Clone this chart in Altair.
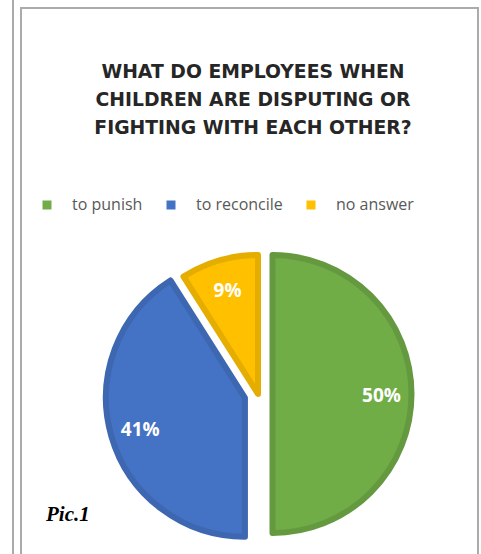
import altair as alt
import pandas as pd

# ---- data ----
categories = ["to punish", "to reconcile", "no answer"]
values = [50, 41, 9]
title_lines = ["WHAT DO EMPLOYEES WHEN", "CHILDREN ARE DISPUTING OR", "FIGHTING WITH EACH OTHER?"]
caption = "Pic.1"

# ---- style ----
fill_colors = ["#70AD47", "#4472C4", "#FFC000"]
stroke_colors = ["#65993F", "#3E67B1", "#E5AD00"]
explode = [14.5, 13.6, 0]          # per-slice explosion (px)
CX, CY = 258, 252                  # pie centre inside plot group
TOP = 142                          # top padding (title area)

df = pd.DataFrame({"category": categories, "value": values})

cat_js = "[" + ",".join("'%s'" % c for c in categories) + "]"
exp_js = "[" + ",".join(str(e) for e in explode) + "]"

base = (
    alt.Chart(df)
    .transform_calculate(idx=f"indexof({cat_js}, datum.category)")
    .transform_joinaggregate(total="sum(value)")
    .transform_window(cum="sum(value)", sort=[alt.SortField("idx")], frame=[None, 0])
    .transform_calculate(
        e="datum.cum / datum.total",
        s="(datum.cum - datum.value) / datum.total",
        m="(datum.cum - datum.value / 2) / datum.total",
        label="datum.value + '%'",
    )
    .transform_calculate(
        ex=f"{exp_js}[datum.idx]",
        mr="datum.m * 2 * PI",
    )
    .transform_calculate(
        px=f"{CX} + datum.ex * sin(datum.mr)",
        py=f"{CY} - datum.ex * cos(datum.mr)",
    )
)

theta_scale = alt.Scale(domain=[0, 1])

arcs = base.mark_arc(radius=139, strokeWidth=6, strokeJoin="round").encode(
    theta=alt.Theta("s:Q", scale=theta_scale, stack=None),
    theta2="e:Q",
    x=alt.X("px:Q", scale=None),
    y=alt.Y("py:Q", scale=None),
    fill=alt.Fill(
        "category:N",
        sort=categories,
        scale=alt.Scale(domain=categories, range=fill_colors),
        legend=alt.Legend(
            title=None, orient="none", legendX=39, legendY=55,
            direction="horizontal", symbolType="square", symbolSize=81,
            symbolStrokeWidth=0, labelFont="Open Sans", labelFontSize=16,
            labelColor="#595959", labelOffset=17, columnPadding=20, padding=0,
        ),
    ),
    stroke=alt.Stroke(
        "category:N",
        scale=alt.Scale(domain=categories, range=stroke_colors),
        legend=None,
    ),
)

labels = base.mark_text(
    radius=109, font="Open Sans", fontSize=19, fontWeight="bold",
    color="white", align="center", baseline="middle", dy=2,
).encode(
    theta=alt.Theta("m:Q", scale=theta_scale, stack=None),
    x=alt.X("px:Q", scale=None),
    y=alt.Y("py:Q", scale=None),
    text="label:N",
)

one = alt.Data(values=[{"t": caption}])
title_data = alt.Data(values=[{"t": title_lines}])

title = alt.Chart(title_data).mark_text(
    font="DejaVu Sans", fontSize=18.8, fontWeight="bold", color="#262626",
    align="center", baseline="alphabetic", lineHeight=28,
).encode(x=alt.value(253), y=alt.value(78 - TOP), text=alt.Text("t:N"))

pic = alt.Chart(one).mark_text(
    font="Liberation Serif", fontSize=21, fontStyle="italic", fontWeight="bold",
    color="#000000", align="left", baseline="alphabetic",
).encode(x=alt.value(46), y=alt.value(521 - TOP), text="t:N")

border_col = "#ABABAB"
outer_line = alt.Chart(one).mark_rule(color=border_col, strokeWidth=2).encode(
    x=alt.value(13), y=alt.value(-TOP), y2=alt.value(412))
box_left = alt.Chart(one).mark_rule(color=border_col, strokeWidth=2).encode(
    x=alt.value(21), y=alt.value(8 - TOP), y2=alt.value(412))
box_top = alt.Chart(one).mark_rule(color=border_col, strokeWidth=2).encode(
    x=alt.value(20), x2=alt.value(479), y=alt.value(8 - TOP))
box_right = alt.Chart(one).mark_rule(color=border_col, strokeWidth=2).encode(
    x=alt.value(478), y=alt.value(8 - TOP), y2=alt.value(412))

chart = alt.layer(
    outer_line, box_left, box_top, box_right, title, arcs, labels, pic
).properties(
    width=481,
    height=554 - TOP,
    padding={"left": 0, "top": TOP, "right": 0, "bottom": 0},
    autosize=alt.AutoSizeParams(type="none"),
    background="white",
).configure_view(stroke=None)

chart.save("out.html", embed_options={"renderer": "svg", "actions": False})
